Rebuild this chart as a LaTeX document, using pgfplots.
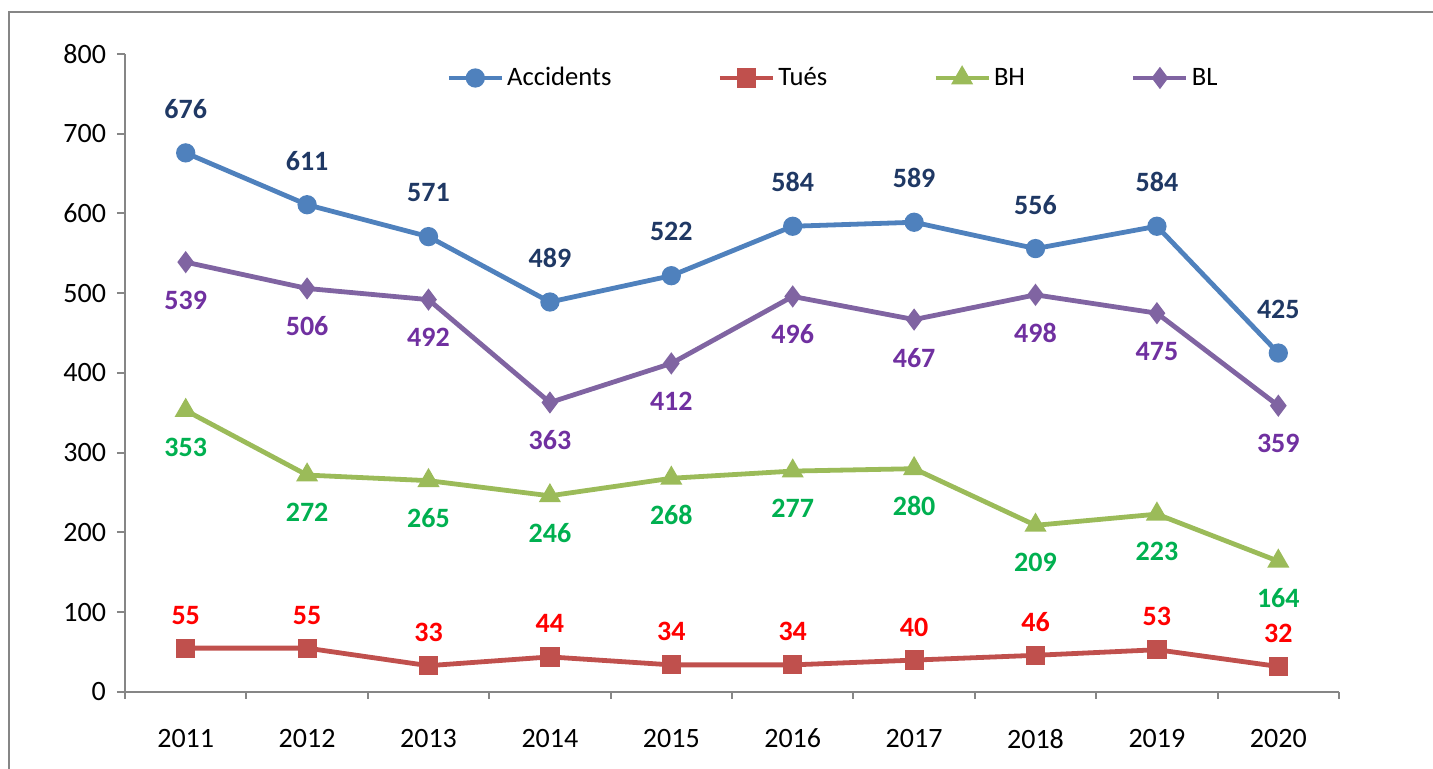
\documentclass[border=0pt]{standalone}
\usepackage{pgfplots}
\pgfplotsset{compat=1.18}
\usepackage{fontspec}
\setmainfont{Carlito}
\definecolor{accC}{HTML}{4F81BD}
\definecolor{accL}{HTML}{1F3864}
\definecolor{tueC}{HTML}{C0504D}
\definecolor{tueL}{HTML}{FF0000}
\definecolor{bhC}{HTML}{9BBB59}
\definecolor{bhL}{HTML}{00B050}
\definecolor{blC}{HTML}{8064A2}
\definecolor{blL}{HTML}{7030A0}
\definecolor{axC}{HTML}{868686}
\begin{document}
\begin{tikzpicture}[font=\fontsize{13.3}{16}\selectfont]
\useasboundingbox (-62.5pt,-38.5pt) rectangle (654pt,346pt);
\draw[axC, line width=1pt] (654pt,340pt) -- (-58pt,340pt) -- (-58pt,-38.5pt);
\begin{axis}[
  at={(0pt,0pt)}, anchor=south west,
  scale only axis, width=607pt, height=319pt,
  xmin=0.5, xmax=10.5, ymin=0, ymax=800,
  axis x line=bottom, axis y line=left,
  axis line style={axC, line width=1pt, -},
  xtick={1,...,10},
  xticklabels={2011,2012,2013,2014,2015,2016,2017,2018,2019,2020},
  minor xtick={0.5,1.5,...,10.5},
  ytick={0,100,...,800},
  tick align=outside,
  major tick length=4pt, minor tick length=3.5pt,
  tick style={axC, line width=1pt},
  major x tick style={draw=none},
  /pgf/number format/assume math mode=true,
  ticklabel style={font=\fontsize{14}{17}\selectfont},
  yticklabel style={xshift=-2pt},
  xticklabel style={yshift=-11pt},
  clip=false,
  legend columns=4,
  legend style={draw=none, fill=none, at={(0.2595,0.9624)}, anchor=west,
    font=\fontsize{13.3}{16}\selectfont,
    nodes={inner xsep=1.5pt},
    /tikz/every even column/.append style={column sep=51.5pt}},
  legend image code/.code={\draw[mark repeat=2,mark phase=2,#1] plot coordinates {(0pt,0pt) (13.25pt,0pt) (26.5pt,0pt)};},
  every axis plot/.append style={line width=2.4pt},
]
\addplot[accC, mark=*, mark size=3.6pt, mark options={solid},
  nodes near coords, nodes near coords style={font=\fontsize{14}{17}\selectfont\bfseries, text=accL, anchor=center, yshift=22pt}]
  coordinates {(1,676) (2,611) (3,571) (4,489) (5,522) (6,584) (7,589) (8,556) (9,584) (10,425)};
\addlegendentry{Accidents}
\addplot[tueC, mark=square*, mark size=3.6pt, mark options={solid},
  nodes near coords, nodes near coords style={font=\fontsize{14}{17}\selectfont\bfseries, text=tueL, anchor=center, yshift=16.5pt}]
  coordinates {(1,55) (2,55) (3,33) (4,44) (5,34) (6,34) (7,40) (8,46) (9,53) (10,32)};
\addlegendentry{Tués}
\addplot[bhC, mark=triangle*, mark size=4pt, mark options={solid},
  nodes near coords, nodes near coords style={font=\fontsize{14}{17}\selectfont\bfseries, text=bhL, anchor=center, yshift=-18.5pt}]
  coordinates {(1,353) (2,272) (3,265) (4,246) (5,268) (6,277) (7,280) (8,209) (9,223) (10,164)};
\addlegendentry{BH}
\addplot[blC, mark=diamond*, mark size=3.6pt, mark options={solid},
  nodes near coords, nodes near coords style={font=\fontsize{14}{17}\selectfont\bfseries, text=blL, anchor=center, yshift=-19pt}]
  coordinates {(1,539) (2,506) (3,492) (4,363) (5,412) (6,496) (7,467) (8,498) (9,475) (10,359)};
\addlegendentry{BL}
\end{axis}
\end{tikzpicture}
\end{document}
